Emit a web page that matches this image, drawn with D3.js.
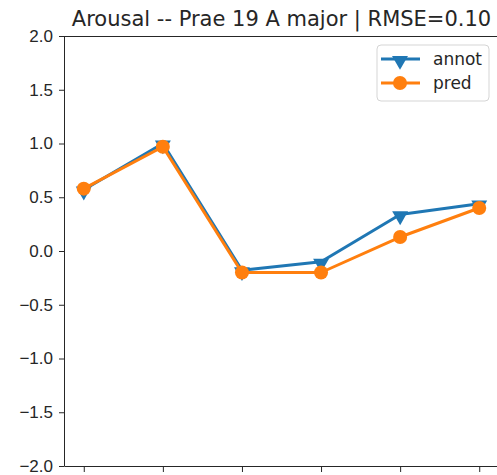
<!DOCTYPE html>
<html>
<head>
<meta charset="utf-8">
<script src="https://cdn.jsdelivr.net/npm/d3@7"></script>
<style>
    body { margin: 0; background: #fff; }
    svg { font-family: "DejaVu Sans", sans-serif; }
    .axis path, .axis line { stroke: #262626; }
    .axis text { fill: #262626; font-size: 17px; }
</style>
</head>
<body>
<script>
var title = "Arousal -- Prae 19 A major | RMSE=0.10";
var steps = [0, 1, 2, 3, 4, 5];
var annot = [0.57, 1.00, -0.18, -0.10, 0.34, 0.44];
var pred = [0.58, 0.97, -0.20, -0.20, 0.13, 0.40];
var yTicks = [-2.0, -1.5, -1.0, -0.5, 0.0, 0.5, 1.0, 1.5, 2.0];
var seriesNames = ["annot", "pred"];
var colors = ["#1f77b4", "#ff7f0e"];

var W = 497, H = 475;
var mLeft = 64, mTop = 36, mRight = 499, mBottom = 466;

var svg = d3.select("body").append("svg")
    .attr("width", W)
    .attr("height", H);

var x = d3.scaleLinear()
    .domain([-0.25, 5.25])
    .range([mLeft, mRight]);
var y = d3.scaleLinear()
    .domain([-2, 2])
    .range([mBottom, mTop]);

// title
svg.append("text")
    .attr("x", (mLeft + mRight) / 2)
    .attr("y", 26)
    .attr("text-anchor", "middle")
    .style("font-size", "21px")
    .style("fill", "#262626")
    .text(title);

// axes
var fmt = function (d) { return d3.format(".1f")(d).replace("-", "\u2212"); };
svg.append("g")
    .attr("class", "axis")
    .attr("transform", "translate(" + mLeft + ",0)")
    .call(d3.axisLeft(y).tickValues(yTicks).tickFormat(fmt).tickSize(5).tickPadding(6).tickSizeOuter(0));
svg.append("g")
    .attr("class", "axis")
    .attr("transform", "translate(0," + mBottom + ")")
    .call(d3.axisBottom(x).tickValues(steps).tickFormat("").tickSize(6).tickSizeOuter(0));

// top and right spines
svg.append("line")
    .attr("x1", mLeft).attr("x2", mRight)
    .attr("y1", mTop + 0.5).attr("y2", mTop + 0.5)
    .attr("stroke", "#262626");
svg.append("line")
    .attr("x1", mRight - 0.5).attr("x2", mRight - 0.5)
    .attr("y1", mTop).attr("y2", mBottom)
    .attr("stroke", "#262626");

var line = d3.line()
    .x(function (d, i) { return x(steps[i]); })
    .y(function (d) { return y(d); });

var tri = d3.symbol().type(d3.symbolTriangle).size(110);

function drawSeries(vals, color, isTri) {
    svg.append("path")
        .datum(vals)
        .attr("fill", "none")
        .attr("stroke", color)
        .attr("stroke-width", 3)
        .attr("stroke-linejoin", "round")
        .attr("d", line);
    var g = svg.append("g");
    vals.forEach(function (v, i) {
        if (isTri) {
            g.append("path")
                .attr("d", tri)
                .attr("fill", color)
                .attr("transform", "translate(" + x(steps[i]) + "," + (y(v) + 1.5) + ") rotate(180)");
        } else {
            g.append("circle")
                .attr("cx", x(steps[i]))
                .attr("cy", y(v))
                .attr("r", 7)
                .attr("fill", color);
        }
    });
}
drawSeries(annot, colors[0], true);
drawSeries(pred, colors[1], false);

// legend
var lg = svg.append("g");
lg.append("rect")
    .attr("x", 377).attr("y", 45)
    .attr("width", 112).attr("height", 56)
    .attr("rx", 4)
    .attr("fill", "#fff").attr("fill-opacity", 0.8)
    .attr("stroke", "#d5d5d5");
seriesNames.forEach(function (name, i) {
    var cy = 59 + i * 24;
    lg.append("line")
        .attr("x1", 381).attr("x2", 420)
        .attr("y1", cy).attr("y2", cy)
        .attr("stroke", colors[i]).attr("stroke-width", 3);
    if (i === 0) {
        lg.append("path")
            .attr("d", tri)
            .attr("fill", colors[i])
            .attr("transform", "translate(400," + (cy + 1.5) + ") rotate(180)");
    } else {
        lg.append("circle")
            .attr("cx", 400).attr("cy", cy).attr("r", 7)
            .attr("fill", colors[i]);
    }
    lg.append("text")
        .attr("x", 433).attr("y", cy)
        .attr("dy", "0.35em")
        .style("font-size", "17px")
        .style("fill", "#262626")
        .text(name);
});
</script>
</body>
</html>
